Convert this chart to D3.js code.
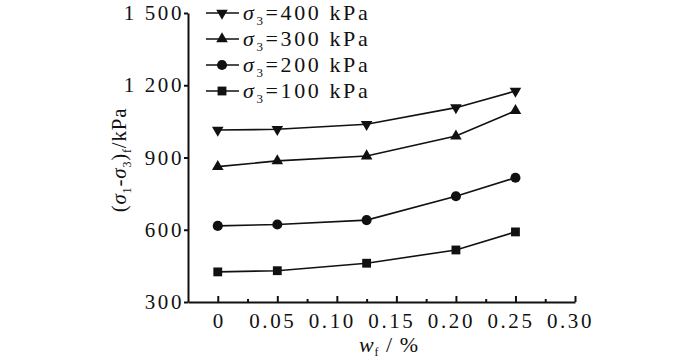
<!DOCTYPE html>
<html>
<head>
<meta charset="utf-8">
<script src="https://cdn.jsdelivr.net/npm/d3@7"></script>
<style>
  body { margin: 0; background: #fff; }
  svg { display: block; }
  svg text { font-family: "Liberation Serif", "Times New Roman", Times, serif !important; fill: #111; }
  .axis path, .axis line { stroke: #111; stroke-width: 2; }
  .axis text { font-size: 21px; letter-spacing: 2.6px; }
  .legend text { font-size: 22px; letter-spacing: 2.6px; }
  .series { fill: none; stroke: #111; stroke-width: 1.6; }
</style>
</head>
<body>
<svg id="chart" width="700" height="362"></svg>
<script>
// fibre content (%)
const fibre = [0, 0.05, 0.125, 0.20, 0.25];
// peak deviator stress (kPa) per confining pressure
const s400 = [1014, 1017, 1038, 1107, 1176];
const s300 = [862, 886, 906, 989, 1094];
const s200 = [616, 622, 640, 739, 816];
const s100 = [425, 430, 461, 516, 591];
const xTicks = [0, 0.05, 0.10, 0.15, 0.20, 0.25, 0.30];
const xMinor = [0.025, 0.075, 0.125, 0.175, 0.225, 0.275];
const yTicks = [300, 600, 900, 1200, 1500];

const series = [
  { label: '400', values: s400, shape: 'down' },
  { label: '300', values: s300, shape: 'up' },
  { label: '200', values: s200, shape: 'circle' },
  { label: '100', values: s100, shape: 'square' }
];

const FONT = '"Liberation Serif", "Times New Roman", Times, serif';
const svg = d3.select('#chart');

const x = d3.scaleLinear().domain([-0.025, 0.30]).range([188, 575]);
const y = d3.scaleLinear().domain([300, 1500]).range([302, 13]);

const fmtX = (d) => d === 0 ? '0' : d.toFixed(2);
const fmtY = (d) => d >= 1000 ? Math.floor(d / 1000) + ' ' + String(d % 1000).padStart(3, '0') : String(d);

// minor ticks first, then the main axis on top
svg.append('g')
  .attr('class', 'axis')
  .attr('transform', 'translate(0,302)')
  .call(d3.axisBottom(x).tickValues(xMinor).tickSize(-3).tickSizeOuter(0).tickFormat(''))
  .select('.domain').remove();

const xAxis = svg.append('g')
  .attr('class', 'axis')
  .attr('transform', 'translate(0,302)')
  .call(d3.axisBottom(x).tickValues(xTicks).tickSize(-6).tickSizeOuter(0).tickPadding(11).tickFormat(fmtX))
  .attr('font-family', FONT);
xAxis.selectAll('.tick text')
  .attr('dx', (d) => d === 0 ? 1 : -5);

svg.append('g')
  .attr('class', 'axis')
  .attr('transform', 'translate(188,0)')
  .call(d3.axisLeft(y).tickValues(yTicks).tickSize(4).tickSizeOuter(0).tickPadding(0).tickFormat(fmtY))
  .attr('font-family', FONT);

const symbolFor = (shape) => {
  if (shape === 'circle') return d3.symbol(d3.symbolCircle, 80)();
  if (shape === 'square') return d3.symbol(d3.symbolSquare, 78)();
  return d3.symbol(d3.symbolTriangle, 58)();
};
const rot = (shape) => shape === 'down' ? ' rotate(180)' : '';

const line = d3.line()
  .x((d, i) => x(fibre[i]))
  .y((d) => y(d));

series.forEach((s) => {
  svg.append('path')
    .attr('class', 'series')
    .attr('d', line(s.values));

  svg.append('g')
    .selectAll('path')
    .data(s.values)
    .enter()
    .append('path')
    .attr('d', symbolFor(s.shape))
    .attr('transform', (d, i) => `translate(${x(fibre[i])},${y(d)})${rot(s.shape)}`)
    .attr('fill', '#111');
});

// legend
const legend = svg.append('g').attr('class', 'legend').attr('font-family', FONT);
series.forEach((s, i) => {
  const ly = 13 + i * 26;
  const g = legend.append('g').attr('transform', `translate(0,${ly})`);
  g.append('line')
    .attr('x1', 206).attr('x2', 239)
    .attr('stroke', '#111').attr('stroke-width', 1.6);
  g.append('path')
    .attr('d', symbolFor(s.shape))
    .attr('transform', `translate(222,0)${rot(s.shape)}`)
    .attr('fill', '#111');
  const t = g.append('text').attr('x', 243).attr('y', 7);
  t.append('tspan').attr('font-style', 'italic').text('σ');
  t.append('tspan').attr('font-size', '13px').attr('dy', 5).text('3');
  t.append('tspan').attr('dy', -5).text(`=${s.label} kPa`);
});

// y label
const yl = svg.append('text')
  .attr('transform', 'translate(126,160) rotate(-90)')
  .attr('text-anchor', 'middle')
  .attr('font-family', FONT)
  .attr('font-size', '21px')
  .attr('letter-spacing', '0.8px');
yl.append('tspan').text('(');
yl.append('tspan').attr('font-style', 'italic').text('σ');
yl.append('tspan').attr('font-size', '12px').attr('dy', 5).text('1');
yl.append('tspan').attr('dy', -5).text('-');
yl.append('tspan').attr('font-style', 'italic').text('σ');
yl.append('tspan').attr('font-size', '12px').attr('dy', 5).text('3');
yl.append('tspan').attr('dy', -5).text(')');
yl.append('tspan').attr('font-size', '12px').attr('dy', 5).text('f');
yl.append('tspan').attr('dy', -5).text('/kPa');

// x label
const xl = svg.append('text')
  .attr('x', 389).attr('y', 352)
  .attr('text-anchor', 'middle')
  .attr('font-family', FONT)
  .attr('font-size', '22px')
  .attr('letter-spacing', '1px');
xl.append('tspan').attr('font-style', 'italic').text('w');
xl.append('tspan').attr('font-size', '12px').attr('dy', 4).text('f');
xl.append('tspan').attr('dy', -4).text(' / %');
</script>
</body>
</html>
